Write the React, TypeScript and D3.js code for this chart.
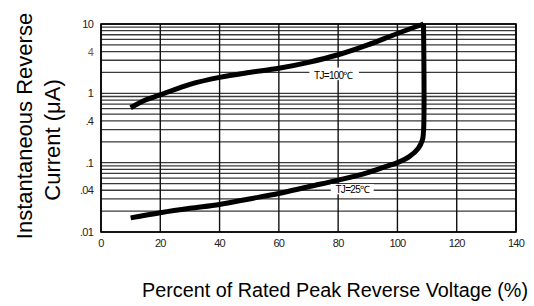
import React from 'react';
import * as d3 from 'd3';

// readings (% of rated voltage, µA)
const voltagePct = [10, 15, 20, 30, 40, 50, 60, 70, 80, 90, 100, 108.8];
const current100C = [0.62, 0.8, 0.95, 1.35, 1.7, 2.0, 2.3, 2.8, 3.6, 5.0, 7.3, 10];

const voltagePct25 = [10, 20, 30, 40, 50, 60, 70, 80, 90, 95, 100, 104, 107, 108.4, 108.8, 108.8];
const current25C = [0.016, 0.019, 0.022, 0.025, 0.03, 0.036, 0.045, 0.056, 0.072, 0.085, 0.1, 0.122, 0.16, 0.21, 0.28, 10];

const xTicks = [0, 20, 40, 60, 80, 100, 120, 140];
const yTicks = [10, 4, 1, 0.4, 0.1, 0.04, 0.01];
const yTickLabels = ['10', '4', '1', '.4', '.1', '.04', '.01'];
const decades = [0.01, 0.1, 1];
const minorSteps = [2, 3, 4, 5, 6, 7, 8, 9];

export default function App() {
  const width = 534;
  const height = 306;
  const left = 101, right = 516, top = 24, bottom = 232;

  const x = d3.scaleLinear().domain([0, 140]).range([left, right]);
  const y = d3.scaleLog().domain([0.01, 10]).range([bottom, top]);

  const gridY: number[] = [];
  decades.forEach(d => {
    gridY.push(d);
    minorSteps.forEach(m => gridY.push(d * m));
  });
  gridY.push(10);

  const line = d3.line<[number, number]>()
    .x(d => x(d[0]))
    .y(d => y(d[1]))
    .curve(d3.curveCatmullRom.alpha(0.5));

  const hot = voltagePct.map((v, i) => [v, current100C[i]] as [number, number]);
  const cold = voltagePct25.map((v, i) => [v, current25C[i]] as [number, number]);

  const font = 'Arial, "Liberation Sans", Helvetica, sans-serif';

  return (
    <svg width={width} height={height} style={{ position: 'absolute', left: 0, top: 0, background: '#fff' }}>
      {/* grid */}
      <g>
        {gridY.map((v, i) => (
          <line key={'h' + i} x1={left} x2={right} y1={y(v)} y2={y(v)} stroke='#3a3a3a' strokeWidth={1.3} />
        ))}
        {xTicks.map((v, i) => (
          <line key={'v' + i} x1={x(v)} x2={x(v)} y1={top} y2={bottom} stroke='#111' strokeWidth={1.4} />
        ))}
        <rect x={left} y={top} width={right - left} height={bottom - top} fill='none' stroke='#000' strokeWidth={1.6} />
      </g>

      {/* curves */}
      <path d={line(hot) || ''} fill='none' stroke='#000' strokeWidth={5} />
      <path d={line(cold) || ''} fill='none' stroke='#000' strokeWidth={5} />

      {/* curve labels */}
      <g fontFamily={font} fontSize={10} letterSpacing={-0.7}>
        <rect x={x(70.3)} y={y(2.35)} width={x(87) - x(70.3)} height={y(1.55) - y(2.35)} fill='#fff' />
        <text x={x(78.4)} y={y(1.62)} textAnchor='middle'>TJ=100℃</text>
        <rect x={x(77.5)} y={y(0.049)} width={x(92) - x(77.5)} height={y(0.035) - y(0.049)} fill='#fff' />
        <text x={x(84.8)} y={y(0.036)} textAnchor='middle'>TJ=25℃</text>
      </g>

      {/* tick labels */}
      <g fontFamily={font} fontSize={11} fill='#222' letterSpacing={-0.8}>
        {xTicks.map((v, i) => (
          <text key={'xt' + i} x={x(v)} y={247} textAnchor='middle'>{v}</text>
        ))}
        {yTicks.map((v, i) => (
          <text key={'yt' + i} x={93} y={y(v) + 4} textAnchor='end' fill={v === 4 ? '#8a5a2a' : '#222'}>{yTickLabels[i]}</text>
        ))}
      </g>

      {/* axis titles */}
      <g fontFamily={font} fontSize={22} fill='#000'>
        <text x={142} y={297} fontSize={20} textLength={386} lengthAdjust='spacingAndGlyphs'>Percent of Rated Peak Reverse Voltage (%)</text>
        <text transform='translate(32,126) rotate(-90)' textAnchor='middle'>Instantaneous Reverse</text>
        <text transform='translate(60,140) rotate(-90)' textAnchor='middle'>Current (μA)</text>
      </g>
    </svg>
  );
}
